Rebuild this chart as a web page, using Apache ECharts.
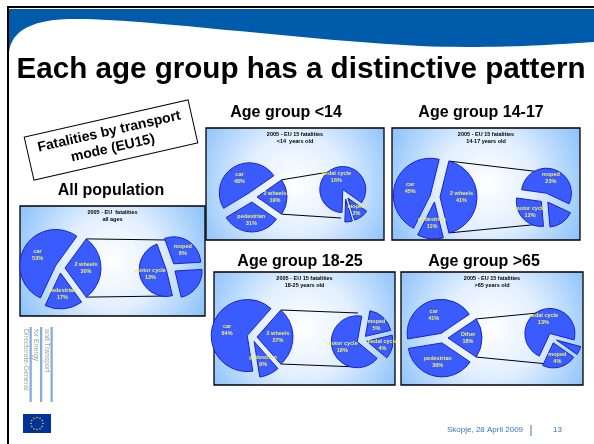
<!DOCTYPE html>
<html><head><meta charset="utf-8">
<script src="https://cdn.jsdelivr.net/npm/echarts@6/dist/echarts.min.js"></script>
<style>html,body{margin:0;padding:0;background:#fff}#c{width:594px;height:444px}</style>
</head><body><div id="c"></div>
<script>
// ---------- DATA ----------
const slideTitle = 'Each age group has a distinctive pattern';
const boxLabel = 'Fatalities by transport\nmode (EU15)';
const groupTitles = ['All population', 'Age group <14', 'Age group 14-17', 'Age group 18-25', 'Age group >65'];
const chartTitleLines = ['2005 - EU  fatalities', '2005 - EU 15 fatalities', '2005 - EU 15 fatalities', '2005 - EU 15 fatalities', '2005 - EU 15 fatalities'];
const chartSubLines = ['all ages', '<14  years old', '14-17 years old', '18-25 years old', '>65 years old'];

const allPrimaryNames = ['2 wheels', 'pedestrian', 'car'];
const allPrimaryValues = [30, 17, 53];
const allSecondaryNames = ['moped', 'pedal cycle', 'motor cycle'];
const allSecondaryValues = [8, 6, 13];

const u14PrimaryNames = ['2 wheels', 'pedestrian', 'car'];
const u14PrimaryValues = [19, 31, 48];
const u14SecondaryNames = ['pedal cycle', 'moped', 'motor cycle'];
const u14SecondaryValues = [16, 2, 1];

const a1417PrimaryNames = ['2 wheels', 'pedestrian', 'car'];
const a1417PrimaryValues = [41, 11, 45];
const a1417SecondaryNames = ['moped', 'pedal cycle', 'motor cycle'];
const a1417SecondaryValues = [23, 7, 12];

const a1825PrimaryNames = ['2 wheels', 'pedestrian', 'car'];
const a1825PrimaryValues = [27, 9, 64];
const a1825SecondaryNames = ['moped', 'pedal cycle', 'motor cycle'];
const a1825SecondaryValues = [5, 4, 18];

const o65PrimaryNames = ['Other', 'pedestrian', 'car'];
const o65PrimaryValues = [18, 36, 41];
const o65SecondaryNames = ['pedal cycle', 'motor cycle', 'moped'];
const o65SecondaryValues = [13, 1, 4];

const footerText = 'Skopje, 28 April 2009';
const pageNumber = '13';
const logoLines = ['Directorate-General', 'for Energy', 'and Transport'];

// ---------- LAYOUT ----------
const charts = [
  {pn: allPrimaryNames, pv: allPrimaryValues, sn: allSecondaryNames, sv: allSecondaryValues},
  {pn: u14PrimaryNames, pv: u14PrimaryValues, sn: u14SecondaryNames, sv: u14SecondaryValues},
  {pn: a1417PrimaryNames, pv: a1417PrimaryValues, sn: a1417SecondaryNames, sv: a1417SecondaryValues},
  {pn: a1825PrimaryNames, pv: a1825PrimaryValues, sn: a1825SecondaryNames, sv: a1825SecondaryValues},
  {pn: o65PrimaryNames, pv: o65PrimaryValues, sn: o65SecondaryNames, sv: o65SecondaryValues}
];
const layout = [
  {box: [20, 206, 185, 110], p: [60, 268, 36], s: [171, 268, 27], sStart: 110, gt: [111, 191]},
  {box: [206, 128, 178, 112], p: [252, 197, 30], s: [345, 194, 23], sStart: 268, gt: [286, 113]},
  {box: [392, 128, 188, 112], p: [435, 197, 37], s: [545, 198, 25], sStart: 172, gt: [481, 113]},
  {box: [214, 272, 181, 113], p: [252, 337, 36], s: [362, 340, 26], sStart: 80, gt: [300, 262]},
  {box: [401, 272, 182, 113], p: [443, 338, 34], s: [552, 338, 25], sStart: 245, gt: [484, 262]}
];
const FONT = '"Liberation Sans", Arial, sans-serif';
const OFFSET = 5;
const sliceColor = '#3a5cff', sliceBorder = '#1a22cc', labelColor = '#f0f060';

function txt(text, x, y, size, opts) {
  opts = opts || {};
  return {
    type: 'text', z: opts.z || 10, rotation: opts.rotation || 0, x: x, y: y,
    style: {
      text: text, x: 0, y: 0, fontSize: size, fontWeight: opts.bold ? 'bold' : 'normal', fontFamily: FONT,
      fill: opts.fill || '#000', align: opts.align || 'center', textAlign: opts.align || 'center',
      verticalAlign: 'middle', textVerticalAlign: 'middle', lineHeight: opts.lh || size * 1.2
    }
  };
}
function bez(p0, p1, p2, p3, n, out) {
  for (let i = 1; i <= n; i++) {
    const t = i / n, u = 1 - t;
    out.push([u*u*u*p0[0] + 3*u*u*t*p1[0] + 3*u*t*t*p2[0] + t*t*t*p3[0],
              u*u*u*p0[1] + 3*u*u*t*p1[1] + 3*u*t*t*p2[1] + t*t*t*p3[1]]);
  }
}

const graphic = [];
// frame + top band
graphic.push({type: 'rect', z: 0, shape: {x: 9, y: 9, width: 585, height: 48}, style: {fill: '#005baa'}});
const wave = [[9, 62], [9, 52]];
bez([9, 52], [11, 35], [25, 20], [70, 19], 20, wave);
bez([70, 19], [140, 18], [300, 40], [420, 46], 30, wave);
bez([420, 46], [500, 49], [560, 44], [594, 42], 20, wave);
wave.push([594, 62]);
graphic.push({type: 'polygon', z: 1, shape: {points: wave}, style: {fill: '#fff'}});
graphic.push({type: 'rect', z: 2, shape: {x: 7, y: 6, width: 587, height: 2}, style: {fill: '#000'}});
graphic.push({type: 'rect', z: 2, shape: {x: 7, y: 6, width: 2, height: 438}, style: {fill: '#000'}});
graphic.push(txt(slideTitle, 301, 70, 29.6, {bold: true}));

// rotated label box
graphic.push({
  type: 'group', x: 111, y: 140, rotation: 0.223, z: 10,
  children: [
    {type: 'rect', shape: {x: -84, y: -22, width: 168, height: 44}, style: {fill: '#fff', stroke: '#000', lineWidth: 1}},
    {type: 'text', style: {text: boxLabel, x: 0, y: 0, fontSize: 14, fontWeight: 'bold', fontFamily: FONT, fill: '#000',
      align: 'center', textAlign: 'center', verticalAlign: 'middle', textVerticalAlign: 'middle', lineHeight: 17}}
  ]
});

const series = [];
charts.forEach(function (c, i) {
  const L = layout[i];
  const b = L.box;
  graphic.push({
    type: 'rect', z: 3, shape: {x: b[0], y: b[1], width: b[2], height: b[3]},
    style: {
      fill: {type: 'radial', x: 0.5, y: 0.5, r: 0.95, global: false,
        colorStops: [{offset: 0, color: '#ffffff'}, {offset: 0.45, color: '#e2efff'}, {offset: 1, color: '#8cc2fa'}]},
      stroke: '#000', lineWidth: 1.3
    }
  });
  graphic.push(txt(chartTitleLines[i] + '\n' + chartSubLines[i], b[0] + b[2] / 2, b[1] + 10, 5.5, {bold: true, lh: 7}));
  graphic.push(txt(groupTitles[i], L.gt[0], L.gt[1], 16, {bold: true}));

  const total = c.pv.reduce(function (a, v) { return a + v; }, 0);
  const half = c.pv[0] / total * 180;
  const hr = half * Math.PI / 180;
  const px = L.p[0] + OFFSET + L.p[2] * Math.cos(hr);
  const pyTop = L.p[1] - L.p[2] * Math.sin(hr);
  const pyBot = L.p[1] + L.p[2] * Math.sin(hr);
  graphic.push({type: 'line', z: 4, shape: {x1: px, y1: pyTop, x2: L.s[0] - 4, y2: L.s[1] - L.s[2] - 1}, style: {stroke: '#000', lineWidth: 1}});
  graphic.push({type: 'line', z: 4, shape: {x1: px, y1: pyBot, x2: L.s[0] - 4, y2: L.s[1] + L.s[2] + 1}, style: {stroke: '#000', lineWidth: 1}});

  const common = {
    type: 'pie', clockwise: true, selectedMode: 'multiple', selectedOffset: OFFSET, silent: true, animation: false, z: 5,
    itemStyle: {color: sliceColor, borderColor: sliceBorder, borderWidth: 1},
    select: {itemStyle: {color: sliceColor, borderColor: sliceBorder, borderWidth: 1}},
    emphasis: {disabled: true},
    label: {show: true, position: 'inside', formatter: '{b}\n{c}%', color: labelColor, fontSize: 5.5,
      fontWeight: 'bold', fontFamily: FONT, lineHeight: 7},
    labelLine: {show: false}
  };
  series.push(Object.assign({}, common, {
    center: [L.p[0], L.p[1]], radius: L.p[2], startAngle: half,
    data: c.pn.map(function (n, k) { return {name: n, value: c.pv[k], selected: true}; })
  }));
  series.push(Object.assign({}, common, {
    center: [L.s[0], L.s[1]], radius: L.s[2], startAngle: L.sStart,
    data: c.sn.map(function (n, k) { return {name: n, value: c.sv[k], selected: true}; })
  }));
});

// logo
logoLines.forEach(function (t, k) {
  graphic.push(txt(t, 25.5 + k * 10.5, 329, 7, {rotation: -Math.PI / 2, align: 'left', fill: '#a0a0a0'}));
  graphic.push({type: 'rect', z: 5, shape: {x: 29.5 + k * 10.5, y: 327, width: 2.3, height: 75}, style: {fill: '#86acd8'}});
});
// EU flag
graphic.push({type: 'rect', z: 5, shape: {x: 23, y: 414, width: 28, height: 19}, style: {fill: '#003399'}});
for (let k = 0; k < 12; k++) {
  const a = k / 12 * Math.PI * 2;
  graphic.push({type: 'circle', z: 6, shape: {cx: 37 + 6 * Math.cos(a), cy: 423.5 + 6 * Math.sin(a), r: 0.8}, style: {fill: '#ffcc00'}});
}
// footer
graphic.push(txt(footerText, 447, 430, 8, {align: 'left', fill: '#3a74c0'}));
graphic.push({type: 'line', z: 5, shape: {x1: 531, y1: 425, x2: 531, y2: 436}, style: {stroke: '#3a74c0', lineWidth: 1}});
graphic.push(txt(pageNumber, 553, 430, 8, {align: 'left', fill: '#3a74c0'}));

const chart = echarts.init(document.getElementById('c'), null, {renderer: 'canvas'});
chart.setOption({animation: false, backgroundColor: '#fff', graphic: graphic, series: series});
</script></body></html>
